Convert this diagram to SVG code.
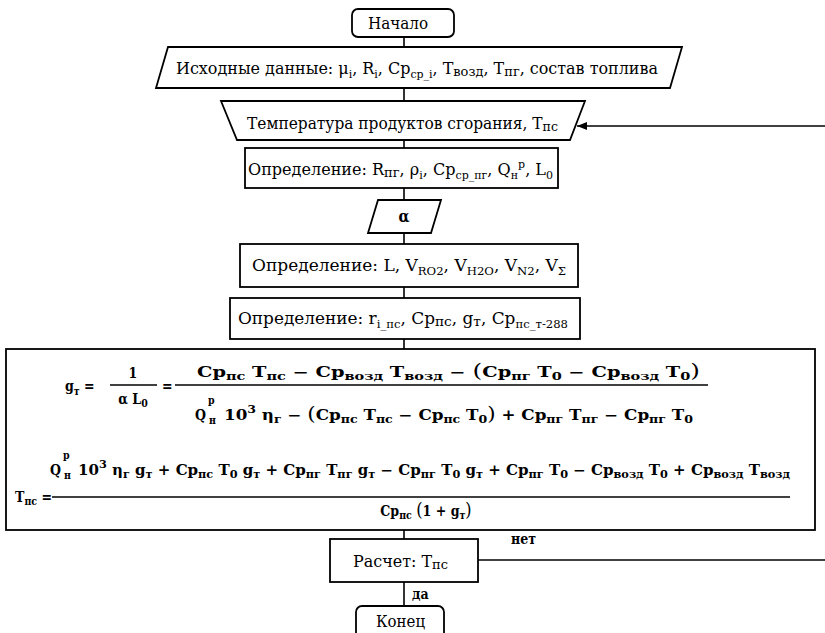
<svg xmlns="http://www.w3.org/2000/svg" width="825" height="633" viewBox="0 0 825 633">
<style>
.bx{fill:#fff;stroke:#000;stroke-width:1.8}
.ln{fill:none;stroke:#000;stroke-width:1.6}
.t{font-family:"DejaVu Serif Condensed","DejaVu Serif","Liberation Serif",serif;font-size:16px;fill:#000}
.sb{font-size:11px}
.sc{font-size:13px}
.f{font-family:"DejaVu Serif Condensed","DejaVu Serif","Liberation Serif",serif;font-size:14px;font-weight:bold;fill:#000}
.fs{font-size:10.5px}
.fp{font-size:18px;font-weight:normal}
.lbl{font-family:"DejaVu Serif Condensed","DejaVu Serif",serif;font-size:14px;font-weight:bold;fill:#000}
</style>
<defs>
<marker id="ah" viewBox="0 0 10 8" refX="10" refY="4" markerWidth="10" markerHeight="8" markerUnits="userSpaceOnUse" orient="auto">
<path d="M0,0 L10,4 L0,8 Z" fill="#000"/>
</marker>
</defs>
<rect width="825" height="633" fill="#fff"/>

<g id="connectors">
<line class="ln" x1="404" y1="37" x2="404" y2="47"/>
<line class="ln" x1="404" y1="88" x2="404" y2="101"/>
<line class="ln" x1="404" y1="140" x2="404" y2="148"/>
<line class="ln" x1="404" y1="188" x2="404" y2="200"/>
<line class="ln" x1="404" y1="233" x2="404" y2="244"/>
<line class="ln" x1="404" y1="287" x2="404" y2="298"/>
<line class="ln" x1="404" y1="339" x2="404" y2="349"/>
<line class="ln" x1="404" y1="530" x2="404" y2="539"/>
<line class="ln" x1="404" y1="582" x2="404" y2="606"/>
<line class="ln" x1="478" y1="560" x2="825" y2="560"/>
<line class="ln" x1="825" y1="126" x2="577" y2="126" marker-end="url(#ah)"/>
<text class="lbl" x="511" y="544">нет</text>
<text class="lbl" x="412" y="599">да</text>
</g>

<g id="start">
<rect class="bx" x="352" y="9" width="102" height="28" rx="6"/>
<text class="t" x="368" y="29" textLength="60" lengthAdjust="spacingAndGlyphs">Начало</text>
</g>

<g id="input">
<polygon class="bx" points="168,47 682,47 670,88 156,88"/>
<text class="t" x="176" y="74" textLength="482" lengthAdjust="spacingAndGlyphs">Исходные данные: μ<tspan class="sb" dy="4">i</tspan><tspan dy="-4">, R</tspan><tspan class="sb" dy="4">i</tspan><tspan dy="-4">, Cp</tspan><tspan class="sb" dy="4">ср_i</tspan><tspan dy="-4">, T</tspan><tspan class="sc" dy="2">возд</tspan><tspan dy="-2">, T</tspan><tspan class="sc" dy="2">пг</tspan><tspan dy="-2">, состав топлива</tspan></text>
</g>

<g id="temp">
<polygon class="bx" points="221,101 585,101 570,140 237,140"/>
<text class="t" x="247" y="129" textLength="311" lengthAdjust="spacingAndGlyphs">Температура продуктов сгорания, T<tspan class="sc" dy="2">пс</tspan></text>
</g>

<g id="def1">
<rect class="bx" x="245" y="148" width="313" height="40"/>
<text class="t" x="248" y="175" textLength="305" lengthAdjust="spacingAndGlyphs">Определение: R<tspan class="sc" dy="2">пг</tspan><tspan dy="-2">, ρ</tspan><tspan class="sb" dy="4">i</tspan><tspan dy="-4">, Cp</tspan><tspan class="sb" dy="4">ср_пг</tspan><tspan dy="-4">, Q</tspan><tspan class="sb" dy="4">н</tspan><tspan class="sb" dy="-11">р</tspan><tspan dy="7">, L</tspan><tspan class="sb" dy="4">0</tspan></text>
</g>

<g id="alpha">
<polygon class="bx" points="378,200 441,200 431,233 368,233"/>
<text class="t" x="404" y="222" text-anchor="middle" style="font-weight:bold">α</text>
</g>

<g id="def2">
<rect class="bx" x="240" y="244" width="338" height="43"/>
<text class="t" x="252" y="271" textLength="314" lengthAdjust="spacingAndGlyphs">Определение: L, V<tspan class="sb" dy="4">RO2</tspan><tspan dy="-4">, V</tspan><tspan class="sb" dy="4">H2O</tspan><tspan dy="-4">, V</tspan><tspan class="sb" dy="4">N2</tspan><tspan dy="-4">, V</tspan><tspan class="sb" dy="4">Σ</tspan></text>
</g>

<g id="def3">
<rect class="bx" x="230" y="298" width="350" height="41"/>
<text class="t" x="238" y="324" textLength="330" lengthAdjust="spacingAndGlyphs">Определение: r<tspan class="sb" dy="4">i_пс</tspan><tspan dy="-4">, Cp</tspan><tspan class="sc" dy="2">пс</tspan><tspan dy="-2">, g</tspan><tspan class="sc" dy="2">т</tspan><tspan dy="-2">, Cp</tspan><tspan class="sb" dy="4">пс_т-288</tspan></text>
</g>

<g id="formulas">
<rect class="bx" x="6" y="349" width="809" height="181"/>
<text class="f" x="65" y="391">g<tspan class="fs" dy="4">т</tspan><tspan dy="-4"> =</tspan></text>
<text class="f" x="133" y="378" text-anchor="middle">1</text>
<line class="ln" x1="110" y1="385" x2="157" y2="385" stroke-width="1.4"/>
<text class="f" x="133" y="404" text-anchor="middle">α  L<tspan class="fs" dy="3">0</tspan></text>
<text class="f" x="162" y="391">=</text>
<line class="ln" x1="175" y1="385" x2="708" y2="385" stroke-width="1.4"/>
<text class="f" x="197" y="377" textLength="503" lengthAdjust="spacingAndGlyphs">Cp<tspan class="fs" dy="3">пс</tspan><tspan dy="-3">  T</tspan><tspan class="fs" dy="3">пс</tspan><tspan dy="-3"> − Cp</tspan><tspan class="fs" dy="3">возд</tspan><tspan dy="-3">  T</tspan><tspan class="fs" dy="3">возд</tspan><tspan dy="-3"> − </tspan><tspan class="fp">(</tspan>Cp<tspan class="fs" dy="3">пг</tspan><tspan dy="-3">  T</tspan><tspan class="fs" dy="3">0</tspan><tspan dy="-3"> − Cp</tspan><tspan class="fs" dy="3">возд</tspan><tspan dy="-3">  T</tspan><tspan class="fs" dy="3">0</tspan><tspan class="fp" dy="-3">)</tspan></text>
<text class="f" x="195" y="420">Q</text>
<text class="f fs" x="208" y="404">p</text>
<text class="f fs" x="209" y="424">н</text>
<text class="f" x="224" y="420" textLength="469" lengthAdjust="spacingAndGlyphs">10<tspan class="fs" dy="-7">3</tspan><tspan dy="7">  η</tspan><tspan class="fs" dy="3">г</tspan><tspan dy="-3"> − </tspan><tspan class="fp">(</tspan>Cp<tspan class="fs" dy="3">пс</tspan><tspan dy="-3">  T</tspan><tspan class="fs" dy="3">пс</tspan><tspan dy="-3"> − Cp</tspan><tspan class="fs" dy="3">пс</tspan><tspan dy="-3">  T</tspan><tspan class="fs" dy="3">0</tspan><tspan class="fp" dy="-3">)</tspan> + Cp<tspan class="fs" dy="3">пг</tspan><tspan dy="-3">  T</tspan><tspan class="fs" dy="3">пг</tspan><tspan dy="-3"> − Cp</tspan><tspan class="fs" dy="3">пг</tspan><tspan dy="-3">  T</tspan><tspan class="fs" dy="3">0</tspan></text>

<text class="f" x="50" y="475">Q</text>
<text class="f fs" x="63" y="459">p</text>
<text class="f fs" x="64" y="479">н</text>
<text class="f" x="78" y="475" textLength="712" lengthAdjust="spacingAndGlyphs">10<tspan class="fs" dy="-7">3</tspan><tspan dy="7">  η</tspan><tspan class="fs" dy="3">г</tspan><tspan dy="-3"> g</tspan><tspan class="fs" dy="3">т</tspan><tspan dy="-3"> + Cp</tspan><tspan class="fs" dy="3">пс</tspan><tspan dy="-3">  T</tspan><tspan class="fs" dy="3">0</tspan><tspan dy="-3"> g</tspan><tspan class="fs" dy="3">т</tspan><tspan dy="-3"> + Cp</tspan><tspan class="fs" dy="3">пг</tspan><tspan dy="-3">  T</tspan><tspan class="fs" dy="3">пг</tspan><tspan dy="-3"> g</tspan><tspan class="fs" dy="3">т</tspan><tspan dy="-3"> − Cp</tspan><tspan class="fs" dy="3">пг</tspan><tspan dy="-3">  T</tspan><tspan class="fs" dy="3">0</tspan><tspan dy="-3"> g</tspan><tspan class="fs" dy="3">т</tspan><tspan dy="-3"> + Cp</tspan><tspan class="fs" dy="3">пг</tspan><tspan dy="-3">  T</tspan><tspan class="fs" dy="3">0</tspan><tspan dy="-3"> − Cp</tspan><tspan class="fs" dy="3">возд</tspan><tspan dy="-3">  T</tspan><tspan class="fs" dy="3">0</tspan><tspan dy="-3"> + Cp</tspan><tspan class="fs" dy="3">возд</tspan><tspan dy="-3">  T</tspan><tspan class="fs" dy="3">возд</tspan></text>
<text class="f" x="15" y="502">T<tspan class="fs" dy="3">пс</tspan><tspan dy="-3"> =</tspan></text>
<line class="ln" x1="52" y1="497" x2="790" y2="497" stroke-width="1.4"/>
<text class="f" x="426" y="516" text-anchor="middle">Cp<tspan class="fs" dy="3">пс</tspan><tspan dy="-3">  </tspan><tspan class="fp">(</tspan>1 + g<tspan class="fs" dy="3">т</tspan><tspan class="fp" dy="-3">)</tspan></text>
</g>

<g id="calc">
<rect class="bx" x="330" y="539" width="148" height="43"/>
<text class="t" x="353" y="567" textLength="95" lengthAdjust="spacingAndGlyphs">Расчет: T<tspan class="sc" dy="2">пс</tspan></text>
</g>

<g id="end">
<rect class="bx" x="356" y="606" width="88" height="36" rx="6"/>
<text class="t" x="376" y="627" textLength="49" lengthAdjust="spacingAndGlyphs">Конец</text>
</g>
</svg>
